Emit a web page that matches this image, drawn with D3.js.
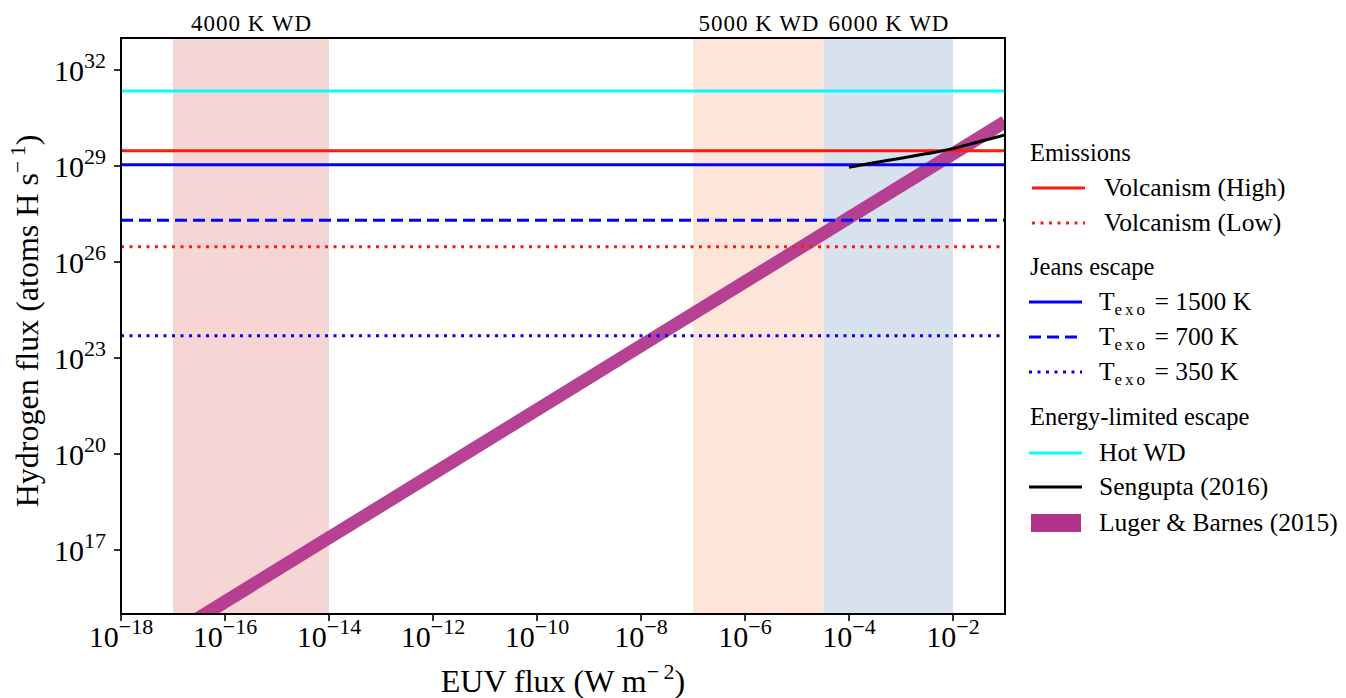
<!DOCTYPE html>
<html>
<head>
<meta charset="utf-8">
<script src="https://cdn.jsdelivr.net/npm/d3@7/dist/d3.min.js"></script>
<style>
  body { margin: 0; background: #fff; }
  svg { font-family: "Liberation Serif", "DejaVu Serif", serif; }
</style>
</head>
<body>
<svg id="chart" width="1346" height="698"></svg>
<script>
// axis ticks
var xTicks = [1e-18, 1e-16, 1e-14, 1e-12, 1e-10, 1e-8, 1e-6, 1e-4, 1e-2];
var yTicks = [1e17, 1e20, 1e23, 1e26, 1e29, 1e32];

// white dwarf EUV bands
var bandNames = ['4000 K WD', '5000 K WD', '6000 K WD'];
var bandLo = [1e-17, 1e-7, 3.3e-5];
var bandHi = [1e-14, 3.3e-5, 1e-2];

// constant hydrogen fluxes (atoms H / s)
var levelNames = ['Volcanism (High)', 'Volcanism (Low)', 'T_exo = 1500 K', 'T_exo = 700 K', 'T_exo = 350 K', 'Hot WD'];
var levelValues = [3e29, 3e26, 1.1e29, 2e27, 5e23, 2.2e31];

// Sengupta (2016)
var senguptaEuv = [1e-4, 3e-4, 1e-3, 3e-3, 1e-2, 3e-2, 1e-1];
var senguptaH = [9.1e28, 1.26e29, 1.75e29, 2.4e29, 3.5e29, 5.6e29, 9.3e29];

// Luger & Barnes (2015)
var lugerEuv = [1e-18, 1e-14, 1e-8, 1e-4, 1e-1];
var lugerH = [2.4e13, 2.4e17, 2.4e23, 2.4e27, 2.4e30];

var _bandColors = ['#f6d5d5', '#fde5da', '#d8e2ee'];
var _levelStyles = [
    {color: '#ff1a0a', dash: null},
    {color: '#ff1a0a', dash: '3,5.5'},
    {color: '#0000ff', dash: null},
    {color: '#0000ff', dash: '12,6'},
    {color: '#0000ff', dash: '3,5.5'},
    {color: '#00ffff', dash: null}
];
var _purple = '#b2338b';

var _left = 121, _top = 38, _width = 884, _height = 576;

var svg = d3.select('#chart');

var x = d3.scaleLog().domain([1e-18, 1e-1]).range([_left, _left + _width]);
var y = d3.scaleLog().domain([1e15, 1e33]).range([_top + _height, _top]);

svg.append('clipPath').attr('id', 'plotclip')
    .append('rect').attr('x', _left).attr('y', _top).attr('width', _width).attr('height', _height);

var plot = svg.append('g').attr('clip-path', 'url(#plotclip)');

// bands
bandNames.forEach(function(name, i){
    plot.append('rect')
        .attr('x', x(bandLo[i]))
        .attr('y', _top)
        .attr('width', x(bandHi[i]) - x(bandLo[i]))
        .attr('height', _height)
        .attr('fill', _bandColors[i]);
    svg.append('text')
        .attr('x', (x(bandLo[i]) + x(bandHi[i])) / 2)
        .attr('y', 31)
        .attr('text-anchor', 'middle')
        .attr('font-size', 23)
        .attr('textLength', 120)
        .text(name);
});

var line = d3.line().x(function(d){ return x(d[0]); }).y(function(d){ return y(d[1]); });

// Luger & Barnes
plot.append('path')
    .datum(d3.zip(lugerEuv, lugerH))
    .attr('d', line)
    .attr('fill', 'none')
    .attr('stroke', _purple)
    .attr('stroke-opacity', 0.93)
    .attr('stroke-width', 13);

// horizontal levels
levelValues.forEach(function(v, i){
    plot.append('line')
        .attr('x1', _left).attr('x2', _left + _width)
        .attr('y1', y(v)).attr('y2', y(v))
        .attr('stroke', _levelStyles[i].color)
        .attr('stroke-width', 3)
        .attr('stroke-dasharray', _levelStyles[i].dash);
});

// Sengupta
plot.append('path')
    .datum(d3.zip(senguptaEuv, senguptaH))
    .attr('d', line.curve(d3.curveMonotoneX))
    .attr('fill', 'none')
    .attr('stroke', '#000')
    .attr('stroke-width', 3);

// frame
svg.append('rect')
    .attr('x', _left).attr('y', _top).attr('width', _width).attr('height', _height)
    .attr('fill', 'none').attr('stroke', '#000').attr('stroke-width', 2);

var _expo = function(v){
    return String(Math.round(Math.log10(v))).replace('-', '\u2212');
};

// x ticks
xTicks.forEach(function(t){
    var g = svg.append('g').attr('transform', 'translate(' + x(t) + ',0)');
    g.append('line').attr('y1', _top + _height).attr('y2', _top + _height + 7)
        .attr('stroke', '#000').attr('stroke-width', 1.6);
    var txt = g.append('text').attr('y', 647).attr('text-anchor', 'middle').attr('font-size', 30);
    txt.append('tspan').text('10');
    txt.append('tspan').attr('font-size', 22).attr('dy', -13).text(_expo(t));
});

// y ticks
yTicks.forEach(function(t){
    var g = svg.append('g').attr('transform', 'translate(0,' + y(t) + ')');
    g.append('line').attr('x1', _left - 7).attr('x2', _left)
        .attr('stroke', '#000').attr('stroke-width', 1.6);
    var txt = g.append('text').attr('x', 106).attr('y', 11).attr('text-anchor', 'end').attr('font-size', 30);
    txt.append('tspan').text('10');
    txt.append('tspan').attr('font-size', 22).attr('dy', -13).text(_expo(t));
});

// axis labels
var xl = svg.append('text').attr('x', _left + _width / 2).attr('y', 692)
    .attr('text-anchor', 'middle').attr('font-size', 32);
xl.append('tspan').text('EUV flux (W m');
xl.append('tspan').attr('font-size', 22).attr('dy', -13).text('\u2212\u20092');
xl.append('tspan').attr('dy', 13).text(')');

var yl = svg.append('text')
    .attr('transform', 'translate(38,' + 321 + ') rotate(-90)')
    .attr('text-anchor', 'middle').attr('font-size', 32);
yl.append('tspan').text('Hydrogen flux (atoms H s');
yl.append('tspan').attr('font-size', 22).attr('dy', -13).text('\u2212\u20091');
yl.append('tspan').attr('dy', 13).text(')');

// legend
var legendGroups = ['Emissions', 'Jeans escape', 'Energy-limited escape'];
var legendRows = [
    {y: 153, head: 0},
    {y: 188, level: 0},
    {y: 223, level: 1},
    {y: 267, head: 1},
    {y: 302, level: 2},
    {y: 337, level: 3},
    {y: 372, level: 4},
    {y: 417, head: 2},
    {y: 453, level: 5},
    {y: 487, name: 'Sengupta (2016)', color: '#000'},
    {y: 523, name: 'Luger & Barnes (2015)', patch: true}
];

var lg = svg.append('g');
legendRows.forEach(function(r){
    if (r.head !== undefined) {
        lg.append('text').attr('x', 1030).attr('y', r.y + 8).attr('font-size', 24.5).text(legendGroups[r.head]);
        return;
    }
    if (r.patch) {
        lg.append('rect').attr('x', 1031).attr('y', r.y - 9).attr('width', 50).attr('height', 18).attr('fill', _purple);
    } else {
        var col = r.level !== undefined ? _levelStyles[r.level].color : r.color;
        var dash = r.level !== undefined ? _levelStyles[r.level].dash : null;
        var x1 = r.level !== undefined && r.level < 2 ? 1032 : 1029;
        lg.append('line').attr('x1', x1).attr('x2', x1 + 53).attr('y1', r.y).attr('y2', r.y)
            .attr('stroke', col).attr('stroke-width', 3).attr('stroke-dasharray', dash);
    }
    var name = r.level !== undefined ? levelNames[r.level] : r.name;
    var t = lg.append('text').attr('x', r.level !== undefined && r.level < 2 ? 1104 : 1099)
        .attr('y', r.y + 8).attr('font-size', 25.5);
    if (name.indexOf('T_exo') === 0) {
        t.append('tspan').text('T');
        t.append('tspan').attr('font-size', 17).attr('dy', 5).attr('letter-spacing', 3).text('exo');
        t.append('tspan').attr('dy', -5).text(name.replace('T_exo', ''));
    } else {
        t.text(name);
    }
});
</script>
</body>
</html>
